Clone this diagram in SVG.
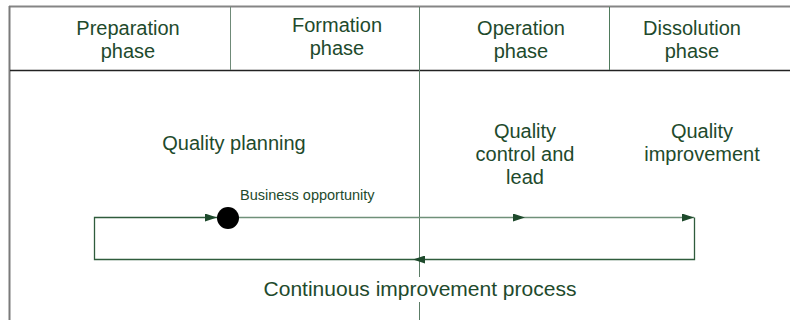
<svg xmlns="http://www.w3.org/2000/svg" width="790" height="320" viewBox="0 0 790 320">
<defs>
<style>
text{font-family:"Liberation Sans",Arial,sans-serif;fill:#1e4a2c;text-anchor:middle}
.h{font-size:20px}
.b{font-size:20px}
.c{font-size:21px}
.s{font-size:14.5px;text-anchor:start}
.ln{stroke:#2f5c3c;stroke-width:1.3;fill:none}
</style>
<marker id="ah" viewBox="0 0 12 8" refX="12" refY="4" markerWidth="12" markerHeight="8" markerUnits="userSpaceOnUse" orient="auto">
<path d="M0,0 L12,4 L0,8 z" fill="#1e4a2c"/>
</marker>
</defs>
<rect width="790" height="320" fill="#fff"/>
<g id="frame">
<line x1="9" y1="6.5" x2="790" y2="6.5" stroke="#858585" stroke-width="2"/>
<line x1="9.5" y1="6" x2="9.5" y2="320" stroke="#7a7a7a" stroke-width="2"/>
<line x1="10" y1="70.5" x2="790" y2="70.5" stroke="#222" stroke-width="1.5"/>
<line x1="230.5" y1="7" x2="230.5" y2="70" stroke="#6f8a78" stroke-width="1"/>
<line x1="609.5" y1="7" x2="609.5" y2="70" stroke="#4f7a5c" stroke-width="1"/>
<line x1="419.5" y1="7" x2="419.5" y2="320" stroke="#5c7d67" stroke-width="1"/>
</g>
<g id="phase-preparation"><text class="h" x="128" y="35">Preparation</text><text class="h" x="128" y="58">phase</text></g>
<g id="phase-formation"><text class="h" x="337" y="32">Formation</text><text class="h" x="337" y="55">phase</text></g>
<g id="phase-operation"><text class="h" x="521" y="35">Operation</text><text class="h" x="521" y="58">phase</text></g>
<g id="phase-dissolution"><text class="h" x="692" y="35">Dissolution</text><text class="h" x="692" y="58">phase</text></g>
<g id="quality-planning"><text class="b" x="234" y="150">Quality planning</text></g>
<g id="quality-control"><text class="b" x="525" y="138">Quality</text><text class="b" x="525" y="161">control and</text><text class="b" x="525" y="184">lead</text></g>
<g id="quality-improvement"><text class="b" x="702" y="138">Quality</text><text class="b" x="702" y="161">improvement</text></g>
<g id="connectors">
<path class="ln" d="M413,259.5 H94.5 V217.5 H217" marker-end="url(#ah)"/>
<line x1="239" y1="217.5" x2="525" y2="217.5" stroke="#6f9079" stroke-width="1.3" marker-end="url(#ah)"/>
<line x1="525" y1="217.5" x2="694" y2="217.5" stroke="#6f9079" stroke-width="1.3" marker-end="url(#ah)"/>
<path class="ln" d="M694.5,217.5 V259.5 H413" marker-end="url(#ah)"/>
</g>
<g id="business-opportunity">
<circle cx="228" cy="218" r="11" fill="#000"/>
<text class="s" x="240" y="200">Business opportunity</text>
</g>
<g id="continuous-improvement">
<rect x="262" y="277" width="316" height="25" fill="#fff"/>
<text class="c" x="420" y="296">Continuous improvement process</text>
</g>
</svg>
